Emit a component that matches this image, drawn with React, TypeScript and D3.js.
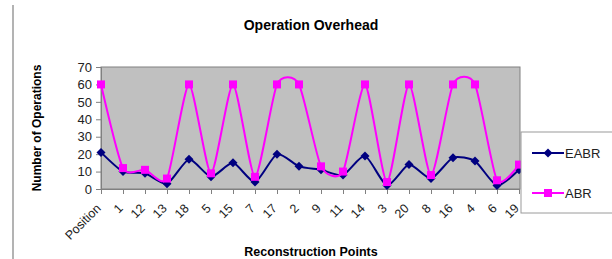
import React, { useRef, useEffect } from 'react';
import * as d3 from 'd3';

const categories = ['Position', '1', '12', '13', '18', '5', '15', '7', '17', '2', '9', '11', '14', '3', '20', '8', '16', '4', '6', '19'];
const eabrValues = [21, 10, 9, 3, 17, 7, 15, 4, 20, 13, 11, 8, 19, 2, 14, 6, 18, 16, 2, 11];
const abrValues = [60, 12, 11, 6, 60, 9, 60, 7, 60, 60, 13, 10, 60, 4, 60, 8, 60, 60, 5, 14];
const yTicks = [0, 10, 20, 30, 40, 50, 60, 70];

const W = 612;
const H = 259;
const font = 'Arial, "Liberation Sans", sans-serif';

const App = () => {
  const svgRef = useRef(null);

  useEffect(() => {
    const svg = d3.select(svgRef.current);
    svg.selectAll('*').remove();

    const plot = { left: 101, right: 520, top: 67, bottom: 189 };

    const x = d3.scalePoint().domain(categories).range([plot.left, plot.right - 1]).padding(0);
    const y = d3.scaleLinear().domain([0, 70]).range([plot.bottom, plot.top]);

    // frame line at left
    svg.append('line')
      .attr('x1', 13).attr('x2', 13).attr('y1', 5).attr('y2', H)
      .attr('stroke', '#9a9a9a').attr('stroke-width', 1.5);

    // title
    svg.append('text')
      .attr('x', 311).attr('y', 30)
      .attr('text-anchor', 'middle')
      .attr('font-family', font).attr('font-weight', 'bold').attr('font-size', 14)
      .text('Operation Overhead');

    // plot area
    svg.append('rect')
      .attr('x', plot.left).attr('y', plot.top)
      .attr('width', plot.right - plot.left).attr('height', plot.bottom - plot.top)
      .attr('fill', '#c0c0c0').attr('stroke', '#808080').attr('stroke-width', 1);

    // y axis
    const yAxis = svg.append('g')
      .attr('transform', `translate(${plot.left},0)`)
      .call(d3.axisLeft(y).tickValues(yTicks).tickSize(5).tickPadding(4));
    yAxis.select('.domain').attr('stroke', '#808080');
    yAxis.selectAll('line').attr('stroke', '#808080');
    yAxis.selectAll('text')
      .attr('font-family', font).attr('font-size', 13).attr('fill', '#222');

    // x axis
    const xAxis = svg.append('g')
      .attr('transform', `translate(0,${plot.bottom})`)
      .call(d3.axisBottom(x).tickSize(5).tickSizeOuter(0));
    xAxis.select('.domain').attr('stroke', '#808080');
    xAxis.selectAll('line').attr('stroke', '#808080');
    xAxis.selectAll('text')
      .attr('font-family', font).attr('font-size', 12.5).attr('fill', '#222')
      .attr('text-anchor', 'end')
      .attr('x', 0).attr('y', 0).attr('dy', '0.35em')
      .attr('transform', 'translate(-3,17) rotate(-45)');

    // axis titles
    svg.append('text')
      .attr('transform', `translate(41,128) rotate(-90)`)
      .attr('text-anchor', 'middle')
      .attr('font-family', font).attr('font-weight', 'bold').attr('font-size', 12)
      .text('Number of Operations');

    svg.append('text')
      .attr('x', 311).attr('y', 256)
      .attr('text-anchor', 'middle')
      .attr('font-family', font).attr('font-weight', 'bold').attr('font-size', 12.5)
      .text('Reconstruction Points');

    const line = d3.line<number>()
      .x((_, i) => x(categories[i]))
      .y(d => y(d))
      .curve(d3.curveCardinal.tension(0.35));

    const series = [
      { name: 'EABR', values: eabrValues, color: '#000080', marker: 'diamond' },
      { name: 'ABR', values: abrValues, color: '#ff00ff', marker: 'square' },
    ];

    const drawMarker = (g, m, cx, cy, color) => {
      if (m === 'diamond') {
        g.append('path')
          .attr('d', `M${cx},${cy - 4.5}L${cx + 4.5},${cy}L${cx},${cy + 4.5}L${cx - 4.5},${cy}Z`)
          .attr('fill', color);
      } else {
        g.append('rect')
          .attr('x', cx - 4).attr('y', cy - 4).attr('width', 8).attr('height', 8)
          .attr('fill', color);
      }
    };

    series.forEach(s => {
      const g = svg.append('g');
      g.append('path')
        .datum(s.values)
        .attr('fill', 'none')
        .attr('stroke', s.color)
        .attr('stroke-width', 2)
        .attr('d', line);
      s.values.forEach((v, i) => drawMarker(g, s.marker, x(categories[i]), y(v), s.color));
    });

    // legend
    const lg = svg.append('g');
    lg.append('rect')
      .attr('x', 521).attr('y', 132).attr('width', 100).attr('height', 81)
      .attr('fill', '#fff').attr('stroke', '#9a9a9a');
    series.forEach((s, i) => {
      const ly = 153 + i * 40;
      lg.append('line')
        .attr('x1', 532).attr('x2', 564).attr('y1', ly).attr('y2', ly)
        .attr('stroke', s.color).attr('stroke-width', 2);
      drawMarker(lg, s.marker, 548, ly, s.color);
      lg.append('text')
        .attr('x', 565).attr('y', ly + 5)
        .attr('font-family', font).attr('font-size', 13).attr('fill', '#222')
        .text(s.name);
    });
  }, []);

  return (
    <div style={{ position: 'absolute', left: 0, top: 0 }}>
      <svg ref={svgRef} width={W} height={H} style={{ display: 'block', background: '#fff' }} />
    </div>
  );
};

export default App;
